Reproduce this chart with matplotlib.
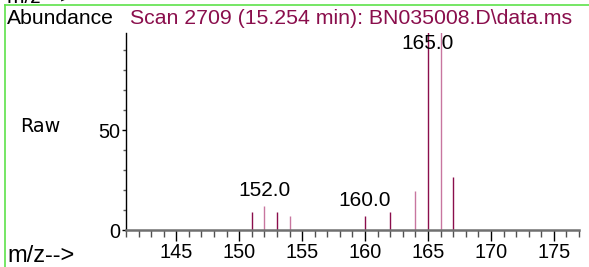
"""
Mass spectrum scan plot, ChemStation style.
"""
import matplotlib
matplotlib.use('Agg')
import matplotlib.pyplot as plt
from matplotlib.lines import Line2D
from matplotlib.ticker import MultipleLocator

mz = [151, 152, 153, 154, 160, 162, 164, 165, 166, 167]
abundance = [9, 12, 9, 7, 7, 9, 19.5, 100, 100, 26.5]
shade = ['dark', 'light', 'dark', 'light', 'dark', 'dark', 'light', 'dark', 'light', 'dark']
labels = {152: '152.0', 160: '160.0', 165: '165.0'}

title = 'Scan 2709 (15.254 min): BN035008.D\\data.ms'
DARK = '#8a0e4c'
LIGHT = '#c8769f'
COLORS = {'dark': DARK, 'light': LIGHT}

plt.rcParams['font.family'] = ['Liberation Sans', 'DejaVu Sans']

fig = plt.figure(figsize=(5.89, 2.67), dpi=100)
ax = fig.add_axes([126 / 589, 1 - 230 / 267, 453 / 589, 197 / 267])
ax.set_xlim(141, 177)
ax.set_ylim(0, 98.5)

ax.vlines(mz, 0, abundance, colors=[COLORS[s] for s in shade], linewidth=1.0, clip_on=True)

for m, h in zip(mz, abundance):
    if m not in labels:
        continue
    if h >= ax.get_ylim()[1]:
        ax.annotate(labels[m], (m, 1), xycoords=('data', 'axes fraction'),
                    xytext=(0, -1), textcoords='offset points',
                    ha='center', va='top', fontsize=15)
    else:
        ax.annotate(labels[m], (m, h), xytext=(0, 4), textcoords='offset points',
                    ha='center', va='bottom', fontsize=15)

for side in ('top', 'right'):
    ax.spines[side].set_visible(False)
ax.spines['left'].set_linewidth(1.0)
ax.spines['bottom'].set_color('#707070')
ax.spines['bottom'].set_linewidth(1.8)

ax.xaxis.set_major_locator(MultipleLocator(5))
ax.xaxis.set_minor_locator(MultipleLocator(1))
ax.yaxis.set_major_locator(MultipleLocator(50))
ax.yaxis.set_minor_locator(MultipleLocator(10))
ax.tick_params(axis='x', which='major', length=8, width=1, color='black',
               labelsize=14.3, pad=1)
ax.tick_params(axis='x', which='minor', length=5, width=1, color='#505050')
ax.tick_params(axis='y', which='major', length=3, width=1, labelsize=14.3, pad=1)
ax.tick_params(axis='y', which='minor', length=2, width=1, color='#606060')

fig.text(7 / 589, 1 - 24 / 267, 'Abundance', fontsize=15.2, va='baseline', ha='left')
fig.text(130 / 589, 1 - 24 / 267, title, fontsize=15.3, color=DARK,
         va='baseline', ha='left')
fig.text(20 / 589, 1 - 132 / 267, 'Raw', fontsize=13.8, family='DejaVu Sans',
         va='baseline', ha='left')
fig.text(7 / 589, 1 - 262 / 267, 'm/z-->', fontsize=17, va='baseline', ha='left')
fig.text(7 / 589, 1 - 3 / 267, 'm/z -->', fontsize=15, va='baseline', ha='left')

# green frame
green = '#5ee24a'
fig.add_artist(Line2D([5 / 589, 1], [1 - 5 / 267] * 2, color=green, linewidth=1.2,
                      transform=fig.transFigure))
fig.add_artist(Line2D([5 / 589] * 2, [0, 1 - 5 / 267], color=green, linewidth=1.2,
                      transform=fig.transFigure))

fig.savefig('out.png', dpi=100)
